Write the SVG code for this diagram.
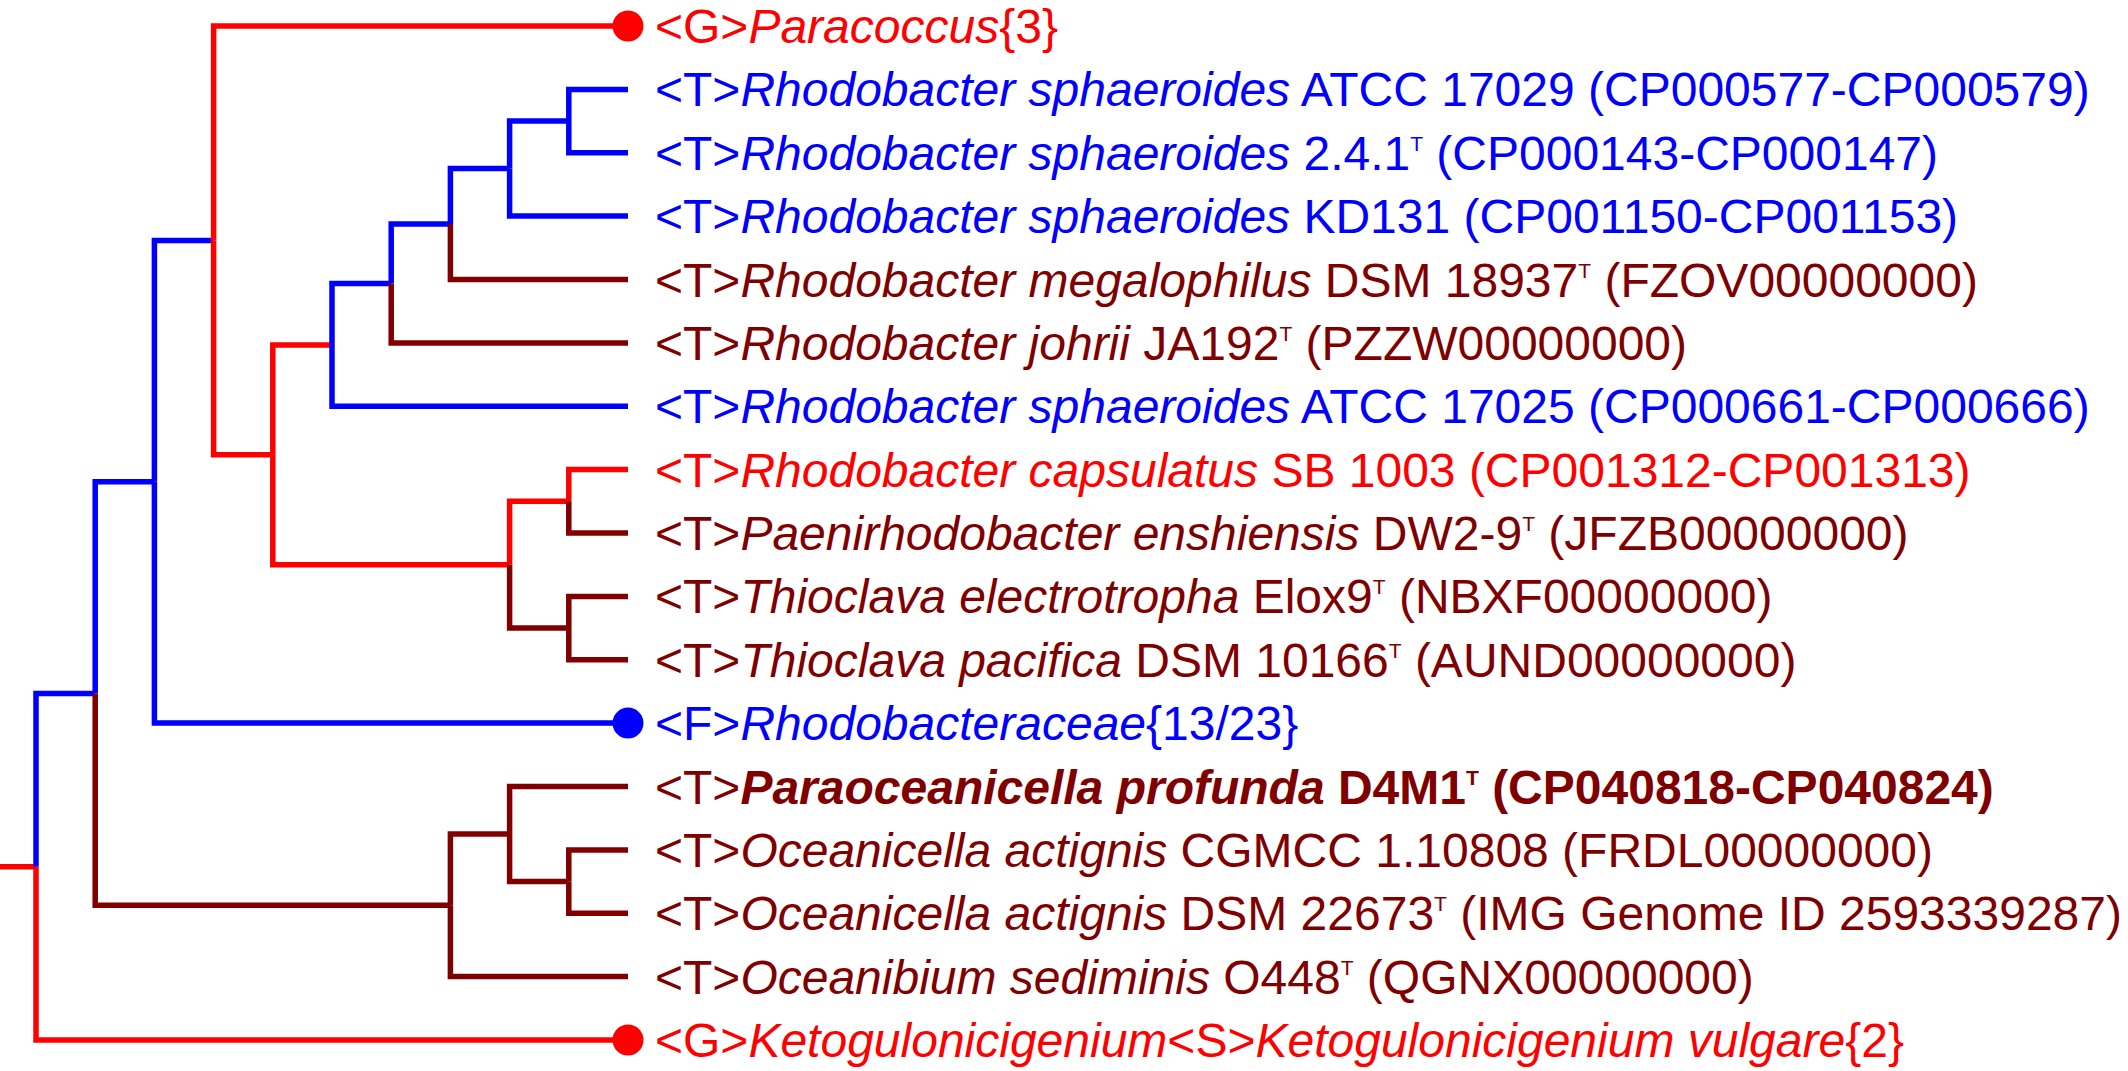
<svg xmlns="http://www.w3.org/2000/svg" width="2128" height="1071" viewBox="0 0 2128 1071">
<style>
.e{fill:none;stroke-width:5.5;stroke-linejoin:miter;stroke-linecap:butt}
.r{stroke:#FF0000}.b{stroke:#0000FF}.m{stroke:#800000}
text{font-family:"Liberation Sans",Arial,sans-serif;font-size:48px}
.tr{fill:#FF0000}.tb{fill:#0000FF}.tm{fill:#800000}
.i{font-style:italic}
.bd{font-weight:bold}
.s{font-size:21px}
</style>
<rect width="2128" height="1071" fill="#FFFFFF"/>
<g id="connectors">
<path class="e r" d="M0,866.8 H36"/>
<path class="e b" d="M36,866.8 V693.5 H95.2"/>
<path class="e r" d="M36,866.8 V1040 H628"/>
<path class="e b" d="M95.2,693.5 V481.75 H154.4"/>
<path class="e m" d="M95.2,693.5 V905.3 H450.4"/>
<path class="e b" d="M154.4,481.75 V240.4 H213.6"/>
<path class="e b" d="M154.4,481.75 V723.1 H628"/>
<path class="e r" d="M213.6,240.4 V26 H628"/>
<path class="e r" d="M213.6,240.4 V454.8 H272.8"/>
<path class="e r" d="M272.8,454.8 V344.9 H332"/>
<path class="e r" d="M272.8,454.8 V564.7 H509.6"/>
<path class="e b" d="M332,344.9 V283.5 H391.2"/>
<path class="e b" d="M332,344.9 V406.25 H628"/>
<path class="e b" d="M391.2,283.5 V224 H450.4"/>
<path class="e m" d="M391.2,283.5 V342.9 H628"/>
<path class="e b" d="M450.4,224 V168.6 H509.6"/>
<path class="e m" d="M450.4,224 V279.5 H628"/>
<path class="e b" d="M509.6,168.6 V121.1 H568.8"/>
<path class="e b" d="M509.6,168.6 V216.1 H628"/>
<path class="e b" d="M568.8,121.1 V89.4 H628"/>
<path class="e b" d="M568.8,121.1 V152.75 H628"/>
<path class="e r" d="M509.6,564.7 V501.3 H568.8"/>
<path class="e m" d="M509.6,564.7 V628.1 H568.8"/>
<path class="e r" d="M568.8,501.3 V469.6 H628"/>
<path class="e m" d="M568.8,501.3 V533 H628"/>
<path class="e m" d="M568.8,628.1 V596.4 H628"/>
<path class="e m" d="M568.8,628.1 V659.75 H628"/>
<path class="e m" d="M450.4,905.3 V834 H509.6"/>
<path class="e m" d="M450.4,905.3 V976.6 H628"/>
<path class="e m" d="M509.6,834 V786.5 H628"/>
<path class="e m" d="M509.6,834 V881.6 H568.8"/>
<path class="e m" d="M568.8,881.6 V849.9 H628"/>
<path class="e m" d="M568.8,881.6 V913.25 H628"/>
</g>
<g id="leaf-paracoccus">
<circle cx="628" cy="26" r="15.5" fill="#FF0000"/>
<text x="655" y="43" class="tr">&lt;G&gt;<tspan class="i">Paracoccus</tspan>{3}</text>
</g>
<g id="leaf-rsph-17029">
<text x="655" y="106.4" class="tb">&lt;T&gt;<tspan class="i">Rhodobacter sphaeroides</tspan> ATCC 17029 (CP000577-CP000579)</text>
</g>
<g id="leaf-rsph-241">
<text x="655" y="169.75" class="tb">&lt;T&gt;<tspan class="i">Rhodobacter sphaeroides</tspan> 2.4.1<tspan class="s" dy="-19">T</tspan><tspan dy="19"> (CP000143-CP000147)</tspan></text>
</g>
<g id="leaf-rsph-kd131">
<text x="655" y="233.1" class="tb">&lt;T&gt;<tspan class="i">Rhodobacter sphaeroides</tspan> KD131 (CP001150-CP001153)</text>
</g>
<g id="leaf-rmeg">
<text x="655" y="296.5" class="tm">&lt;T&gt;<tspan class="i">Rhodobacter megalophilus</tspan> DSM 18937<tspan class="s" dy="-19">T</tspan><tspan dy="19"> (FZOV00000000)</tspan></text>
</g>
<g id="leaf-rjoh">
<text x="655" y="359.9" class="tm">&lt;T&gt;<tspan class="i">Rhodobacter johrii</tspan> JA192<tspan class="s" dy="-19">T</tspan><tspan dy="19"> (PZZW00000000)</tspan></text>
</g>
<g id="leaf-rsph-17025">
<text x="655" y="423.25" class="tb">&lt;T&gt;<tspan class="i">Rhodobacter sphaeroides</tspan> ATCC 17025 (CP000661-CP000666)</text>
</g>
<g id="leaf-rcap">
<text x="655" y="486.6" class="tr">&lt;T&gt;<tspan class="i">Rhodobacter capsulatus</tspan> SB 1003 (CP001312-CP001313)</text>
</g>
<g id="leaf-paen">
<text x="655" y="550" class="tm">&lt;T&gt;<tspan class="i">Paenirhodobacter enshiensis</tspan> DW2-9<tspan class="s" dy="-19">T</tspan><tspan dy="19"> (JFZB00000000)</tspan></text>
</g>
<g id="leaf-tele">
<text x="655" y="613.4" class="tm">&lt;T&gt;<tspan class="i">Thioclava electrotropha</tspan> Elox9<tspan class="s" dy="-19">T</tspan><tspan dy="19"> (NBXF00000000)</tspan></text>
</g>
<g id="leaf-tpac">
<text x="655" y="676.75" class="tm">&lt;T&gt;<tspan class="i">Thioclava pacifica</tspan> DSM 10166<tspan class="s" dy="-19">T</tspan><tspan dy="19"> (AUND00000000)</tspan></text>
</g>
<g id="leaf-rhodobacteraceae">
<circle cx="628" cy="723.1" r="15.5" fill="#0000FF"/>
<text x="655" y="740.1" class="tb">&lt;F&gt;<tspan class="i">Rhodobacteraceae</tspan>{13/23}</text>
</g>
<g id="leaf-paraoceanicella">
<text x="655" y="803.5" class="tm">&lt;T&gt;<tspan class="i bd">Paraoceanicella profunda</tspan><tspan class="bd"> D4M1</tspan><tspan class="s bd" dy="-19">T</tspan><tspan class="bd" dy="19"> (CP040818-CP040824)</tspan></text>
</g>
<g id="leaf-oact-cgmcc">
<text x="655" y="866.9" class="tm">&lt;T&gt;<tspan class="i">Oceanicella actignis</tspan> CGMCC 1.10808 (FRDL00000000)</text>
</g>
<g id="leaf-oact-dsm">
<text x="655" y="930.25" class="tm">&lt;T&gt;<tspan class="i">Oceanicella actignis</tspan> DSM 22673<tspan class="s" dy="-19">T</tspan><tspan dy="19"> (IMG Genome ID 2593339287)</tspan></text>
</g>
<g id="leaf-osed">
<text x="655" y="993.6" class="tm">&lt;T&gt;<tspan class="i">Oceanibium sediminis</tspan> O448<tspan class="s" dy="-19">T</tspan><tspan dy="19"> (QGNX00000000)</tspan></text>
</g>
<g id="leaf-ketogulonicigenium">
<circle cx="628" cy="1040" r="15.5" fill="#FF0000"/>
<text x="655" y="1057" class="tr">&lt;G&gt;<tspan class="i">Ketogulonicigenium</tspan>&lt;S&gt;<tspan class="i">Ketogulonicigenium vulgare</tspan>{2}</text>
</g>
</svg>
